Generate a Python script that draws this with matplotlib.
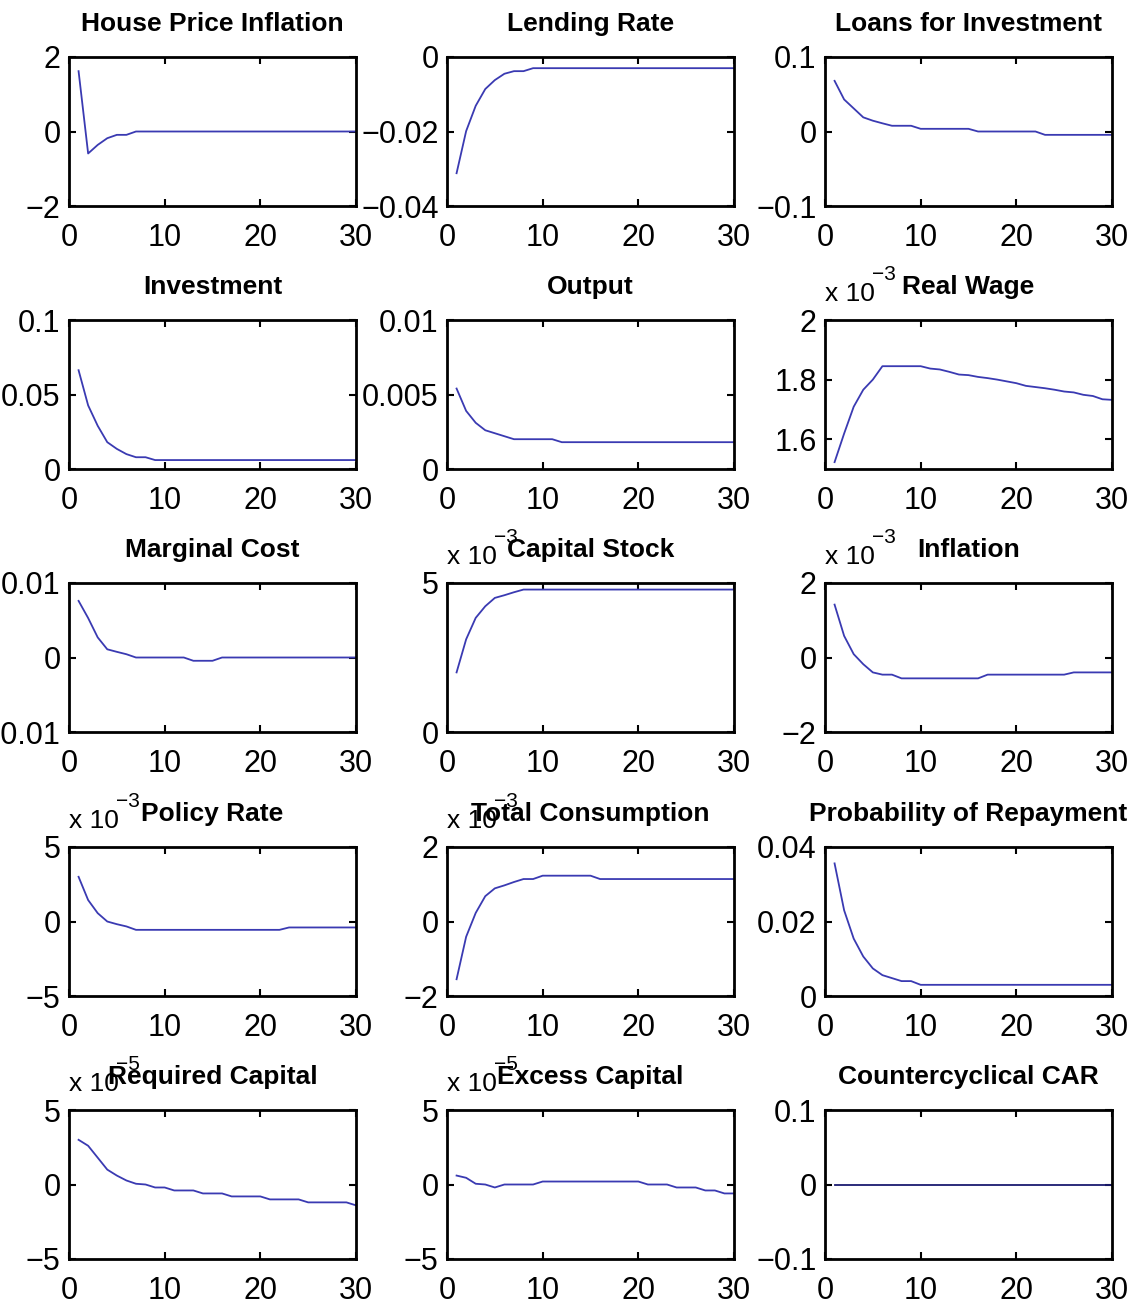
import matplotlib
matplotlib.use('Agg')
import matplotlib.pyplot as plt
import matplotlib.font_manager as fm

# impulse responses, horizon 1..30
periods = list(range(1, 31))

house_price_inflation = [1.62, -0.59, -0.36, -0.18, -0.09, -0.09] + [0.0] * 24
lending_rate = [-0.0312, -0.0199, -0.0131, -0.0086, -0.0062, -0.0045, -0.0038, -0.0038] + [-0.003] * 22
loans_investment = ([0.068, 0.043, 0.031, 0.019, 0.0145, 0.011, 0.0077, 0.0077, 0.0077]
                    + [0.0036] * 6 + [0.0] * 7 + [-0.0045] * 8)
investment = [0.0663, 0.0427, 0.029, 0.018, 0.0135, 0.010, 0.0079, 0.0079] + [0.006] * 22
output = [0.0054, 0.0039, 0.0031, 0.0026, 0.0024, 0.0022] + [0.002] * 5 + [0.0018] * 19
real_wage = [1.523, 1.619, 1.709, 1.766, 1.800, 1.845, 1.845, 1.845, 1.845, 1.845,
             1.837, 1.834, 1.826, 1.817, 1.815, 1.809, 1.805, 1.800, 1.794, 1.788,
             1.779, 1.775, 1.771, 1.766, 1.760, 1.757, 1.749, 1.745, 1.734, 1.732]
marginal_cost = ([0.0076, 0.0053, 0.0027, 0.0011, 0.00076, 0.00044] + [0.0] * 6
                 + [-0.00044] * 3 + [0.0] * 15)
capital_stock = [2.0, 3.11, 3.83, 4.22, 4.5, 4.59, 4.69] + [4.78] * 23
inflation = [1.42, 0.58, 0.09, -0.18, -0.40, -0.46, -0.46] + [-0.56] * 9 + [-0.46] * 9 + [-0.40] * 5
policy_rate = [3.0, 1.44, 0.56, 0.0, -0.18, -0.33] + [-0.56] * 16 + [-0.40] * 8
total_consumption = ([-1.55, -0.41, 0.23, 0.68, 0.89, 0.97, 1.06, 1.14, 1.14]
                     + [1.23] * 6 + [1.14] * 15)
prob_repayment = [0.0356, 0.023, 0.0154, 0.0106, 0.0074, 0.0056, 0.0048, 0.004, 0.004] + [0.003] * 21
required_capital = ([3.0, 2.6, 1.8, 1.0, 0.6, 0.27, 0.05, 0.0, -0.2, -0.2, -0.4, -0.4, -0.4]
                    + [-0.6] * 3 + [-0.8] * 4 + [-1.0] * 4 + [-1.2] * 5 + [-1.4])
excess_capital = ([0.6, 0.45, 0.05, 0.0, -0.2, 0.0, 0.0, 0.0, 0.0] + [0.2] * 11
                  + [0.0] * 3 + [-0.2] * 3 + [-0.4] * 2 + [-0.6] * 2)
countercyclical_car = [0.0] * 30

titles = ['House Price Inflation', 'Lending Rate', 'Loans for Investment',
          'Investment', 'Output', 'Real Wage',
          'Marginal Cost', 'Capital Stock', 'Inflation',
          'Policy Rate', 'Total Consumption', 'Probability of Repayment',
          'Required Capital', 'Excess Capital', 'Countercyclical CAR']
series = [house_price_inflation, lending_rate, loans_investment,
          investment, output, real_wage,
          marginal_cost, capital_stock, inflation,
          policy_rate, total_consumption, prob_repayment,
          required_capital, excess_capital, countercyclical_car]
yticks = [[-2, 0, 2], [-0.04, -0.02, 0], [-0.1, 0, 0.1],
          [0, 0.05, 0.1], [0, 0.005, 0.01], [1.6, 1.8, 2],
          [-0.01, 0, 0.01], [0, 5], [-2, 0, 2],
          [-5, 0, 5], [-2, 0, 2], [0, 0.02, 0.04],
          [-5, 0, 5], [-5, 0, 5], [-0.1, 0, 0.1]]
ylabels = [['\u22122', '0', '2'], ['\u22120.04', '\u22120.02', '0'], ['\u22120.1', '0', '0.1'],
           ['0', '0.05', '0.1'], ['0', '0.005', '0.01'], ['1.6', '1.8', '2'],
           ['-0.01', '0', '0.01'], ['0', '5'], ['\u22122', '0', '2'],
           ['\u22125', '0', '5'], ['\u22122', '0', '2'], ['0', '0.02', '0.04'],
           ['\u22125', '0', '5'], ['\u22125', '0', '5'], ['\u22120.1', '0', '0.1']]
ylims = [(-2, 2), (-0.04, 0), (-0.1, 0.1),
         (0, 0.1), (0, 0.01), (1.5, 2),
         (-0.01, 0.01), (0, 5), (-2, 2),
         (-5, 5), (-2, 2), (0, 0.04),
         (-5, 5), (-5, 5), (-0.1, 0.1)]
exponents = [None, None, None, None, None, '\u22123', None, '\u22123', '\u22123',
             '\u22123', '\u22123', None, '\u22125', '\u22125', None]

names = {f.name for f in fm.fontManager.ttflist}
fam = 'Liberation Sans Narrow' if 'Liberation Sans Narrow' in names else 'Liberation Sans'
plt.rcParams['font.family'] = [fam, 'DejaVu Sans']

W, H = 1134, 1308
fig = plt.figure(figsize=(W / 100, H / 100), dpi=100)
lefts = [69, 447, 825]
tops = [57, 320, 583, 847, 1110]
aw, ah = 287, 149

line_color = '#3a3ab2'

for i, (title, y) in enumerate(zip(titles, series)):
    r, c = divmod(i, 3)
    ax = fig.add_axes([lefts[c] / W, 1 - (tops[r] + ah) / H, aw / W, ah / H])
    color = '#1a1a70' if title == 'Countercyclical CAR' else line_color
    ax.plot(periods, y, color=color, lw=1.3)
    ax.set_xlim(0, 30)
    ax.set_ylim(*ylims[i])
    ax.set_xticks([0, 10, 20, 30])
    ax.set_yticks(yticks[i])
    ax.set_yticklabels(ylabels[i])
    ax.tick_params(direction='in', top=True, right=True, length=5, width=1.5,
                   labelsize=22)
    ax.tick_params(axis='x', pad=12)
    ax.tick_params(axis='y', pad=6)
    for sp in ax.spines.values():
        sp.set_linewidth(2)
    ax.set_title(title, fontsize=19, fontweight='bold', pad=19)
    if exponents[i]:
        ax.annotate('x 10', xy=(0, 1), xycoords='axes fraction',
                    xytext=(0, 10), textcoords='offset points',
                    fontsize=19, ha='left', va='bottom')
        ax.annotate(exponents[i], xy=(0, 1), xycoords='axes fraction',
                    xytext=(34, 26), textcoords='offset points',
                    fontsize=15, ha='left', va='bottom')

fig.savefig('out.png', dpi=100, facecolor='white')
